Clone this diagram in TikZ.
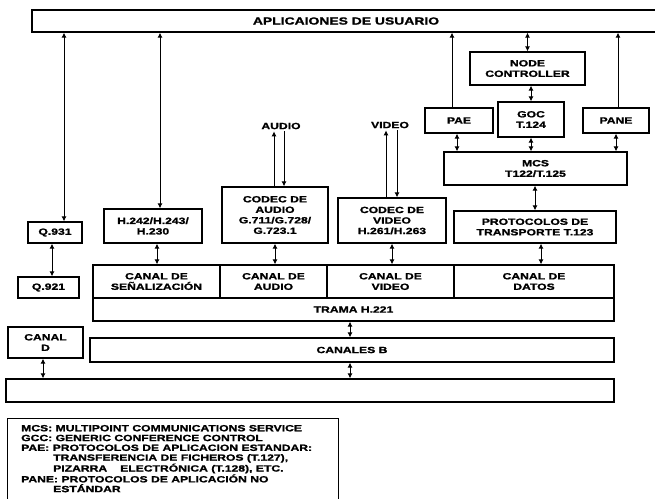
\documentclass[tikz,border=0pt]{standalone}
\usepackage{fontspec}
\newfontfamily\diagfont{Liberation Sans}[FakeStretch=1.35,FakeBold=1.5]
\usetikzlibrary{arrows.meta,calc,positioning}

\tikzset{
  blk/.style={draw, line width=1.3pt, align=center, inner sep=1pt,
    font=\diagfont\bfseries\fontsize{9}{10.5}\selectfont},
  lbl/.style={inner sep=2pt, font=\diagfont\bfseries\fontsize{9}{10.5}\selectfont},
  arr/.style={-{Latex[length=5pt,width=5pt]}, line width=0.9pt},
  dbl/.style={{Latex[length=5pt,width=5pt]}-{Latex[length=5pt,width=5pt]}, line width=0.9pt}
}

\begin{document}
\begin{tikzpicture}[x=1pt,y=-1pt]
    \useasboundingbox (0,0) rectangle (655,498);
    % Bloque superior
    \node[blk, minimum width=628, minimum height=22,
      font=\diagfont\bfseries\fontsize{10.3}{12}\selectfont] (apl) at (346,21) {APLICAIONES DE USUARIO};
    % Pila de datos
    \node[blk, minimum width=115, minimum height=33] (nodec) at (527.5,68.5) {NODE\\CONTROLLER};
    \node[blk, minimum width=68, minimum height=25] (pae) at (459,120.5) {PAE};
    \node[blk, minimum width=66, minimum height=35] (goc) at (531,119.5) {GOC\\T.124};
    \node[blk, minimum width=66, minimum height=25] (pane) at (616,120.5) {PANE};
    \node[blk, minimum width=183, minimum height=33] (mcs) at (535.5,168.5) {MCS\\T122/T.125};
    \node[blk, minimum width=162, minimum height=32] (prot) at (535,227) {PROTOCOLOS DE\\TRANSPORTE T.123};
    % Codecs y control
    \node[lbl] (audio) at (281,126) {AUDIO};
    \node[lbl] (video) at (390,125) {VIDEO};
    \node[blk, minimum width=98, minimum height=34] (h242) at (153,226) {H.242/H.243/\\H.230};
    \node[blk, minimum width=106, minimum height=56] (codecA) at (275,215) {CODEC DE\\AUDIO\\G.711/G.728/\\G.723.1};
    \node[blk, minimum width=108, minimum height=45] (codecV) at (392,220.5) {CODEC DE\\VIDEO\\H.261/H.263};
    \node[blk, minimum width=54, minimum height=21] (q931) at (55,232.5) {Q.931};
    \node[blk, minimum width=61, minimum height=21] (q921) at (48.5,287.5) {Q.921};
    % Canales de la trama
    \node[blk, minimum width=127, minimum height=33] (senal) at (156.5,281.5) {CANAL DE\\SEÑALIZACIÓN};
    \node[blk, minimum width=107, minimum height=33] (canA) at (273.5,281.5) {CANAL DE\\AUDIO};
    \node[blk, minimum width=127, minimum height=33] (canV) at (390.5,281.5) {CANAL DE\\VIDEO};
    \node[blk, minimum width=160, minimum height=33] (datos) at (534,281.5) {CANAL DE\\DATOS};
    \node[blk, minimum width=521, minimum height=23] (trama) at (353.5,309.5) {TRAMA H.221};
    \node[blk, minimum width=75, minimum height=31] (canD) at (45.5,342.5) {CANAL\\D};
    \node[blk, minimum width=524, minimum height=24] (canB) at (352,350) {CANALES B};
    \node[blk, minimum width=608, minimum height=23] (bot) at (310,390.5) {};
    % Flechas hacia aplicaciones
    \draw[dbl] ([xshift=9pt]q931.north) -- ([xshift=9pt]q931.north |- apl.south);
    \draw[dbl] ([xshift=7pt]h242.north) -- ([xshift=7pt]h242.north |- apl.south);
    \draw[arr] ([xshift=-7pt]pae.north) -- ([xshift=-7pt]pae.north |- apl.south);
    \draw[arr] ([xshift=2pt]pane.north) -- ([xshift=2pt]pane.north |- apl.south);
    \draw[dbl] (nodec.north) -- (nodec.north |- apl.south);
    \draw[dbl] (goc.north) -- (goc.north |- nodec.south);
    \draw[dbl] (goc.south) -- (goc.south |- mcs.north);
    \draw[dbl] ([xshift=-2pt]pae.south) -- ([xshift=-2pt]pae.south |- mcs.north);
    \draw[dbl] (pane.south) -- (pane.south |- mcs.north);
    \draw[dbl] (prot.north) -- (prot.north |- mcs.south);
    % Audio y video
    \draw[arr] ([xshift=-1pt]codecA.north) -- ([xshift=-7pt]audio.south);
    \draw[arr] ([xshift=3pt]audio.south) -- ([xshift=9pt]codecA.north);
    \draw[arr] ([xshift=-6pt]codecV.north) -- ([xshift=-4pt]video.south);
    \draw[arr] ([xshift=7pt]video.south) -- ([xshift=5pt]codecV.north);
    % Hacia los canales
    \draw[dbl] ([xshift=4pt]h242.south) -- ([xshift=4pt]h242.south |- senal.north);
    \draw[dbl] (codecA.south) -- (codecA.south |- canA.north);
    \draw[dbl] (codecV.south) -- (codecV.south |- canV.north);
    \draw[dbl] ([xshift=6pt]prot.south) -- ([xshift=6pt]prot.south |- datos.north);
    \draw[dbl] ([xshift=-3pt]q931.south) -- ([xshift=-3pt]q931.south |- q921.north);
    \draw[dbl] ([xshift=-3.5pt]trama.south) -- ([xshift=-3.5pt]trama.south |- canB.north);
    \draw[dbl] ([xshift=-2.5pt]canD.south) -- ([xshift=-2.5pt]canD.south |- bot.north);
    \draw[dbl] ([xshift=-2pt]canB.south) -- ([xshift=-2pt]canB.south |- bot.north);
    % Leyenda
    \draw[line width=1pt] (7,502) -- (7,418) -- (338,418) -- (338,502);
    \node[lbl, inner sep=0pt, anchor=north west, align=left,
      font=\diagfont\bfseries\fontsize{9}{9.8}\selectfont] (leyenda) at (21,424.8)
      {MCS: MULTIPOINT COMMUNICATIONS SERVICE\\
       GCC: GENERIC CONFERENCE CONTROL\\
       PAE: PROTOCOLOS DE APLICACION ESTANDAR:\\
       \hspace*{32pt}TRANSFERENCIA DE FICHEROS (T.127),\\
       \hspace*{32pt}PIZARRA\hspace{13pt}ELECTRÓNICA (T.128), ETC.\\
       PANE: PROTOCOLOS DE APLICACIÓN NO\\
       \hspace*{32pt}ESTÁNDAR};
  \end{tikzpicture}
\end{document}
